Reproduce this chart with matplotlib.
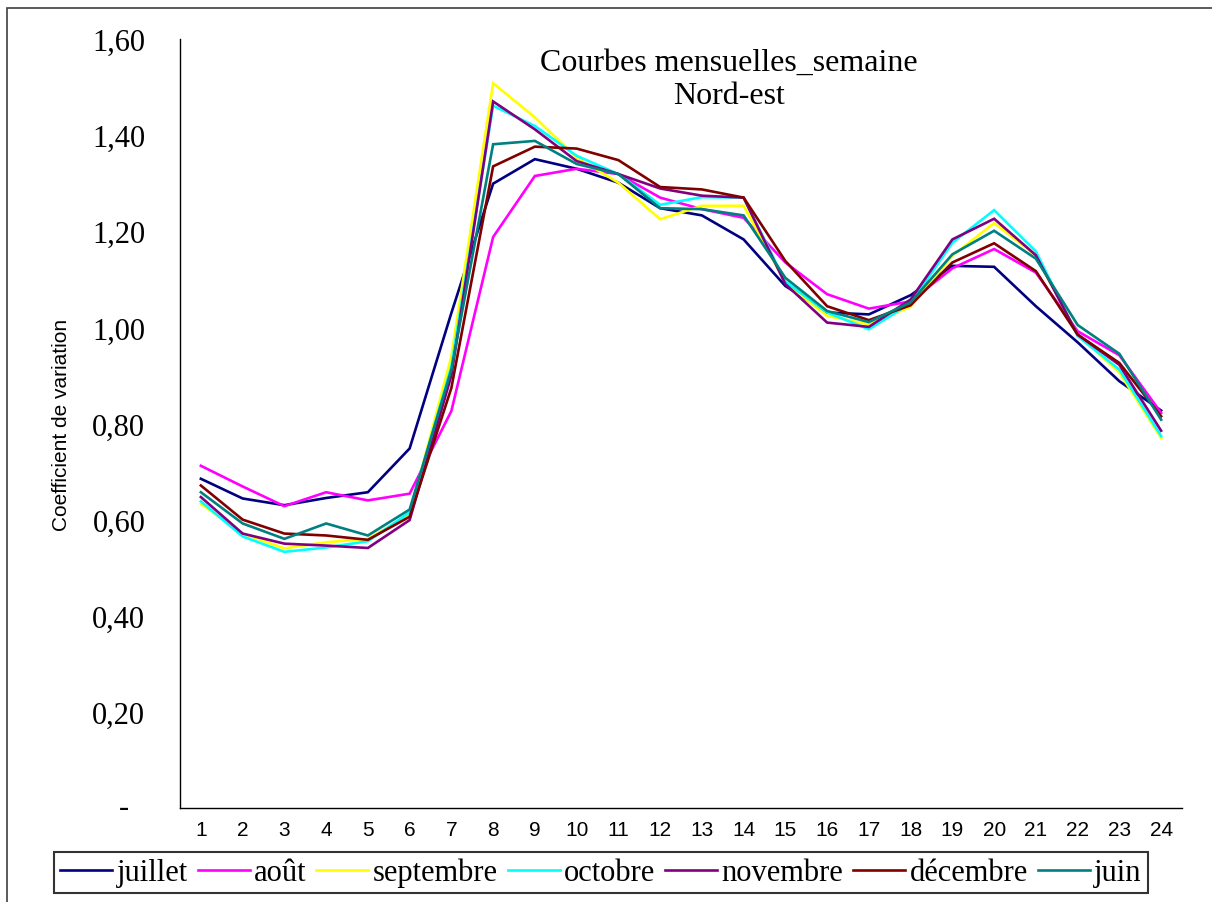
import matplotlib
matplotlib.use("Agg")
import matplotlib.pyplot as plt
from matplotlib.patches import Rectangle

hours = list(range(1, 25))
hour_labels = [str(h) for h in hours]

juillet = [0.685, 0.644, 0.630, 0.645, 0.657, 0.748, 1.030, 1.299, 1.350, 1.330, 1.301, 1.248,
           1.233, 1.183, 1.086, 1.031, 1.027, 1.067, 1.128, 1.126, 1.044, 0.969, 0.888, 0.827]
aout = [0.712, 0.669, 0.628, 0.657, 0.640, 0.654, 0.826, 1.188, 1.315, 1.330, 1.319, 1.270,
        1.246, 1.228, 1.135, 1.069, 1.039, 1.054, 1.123, 1.163, 1.114, 0.992, 0.942, 0.822]
septembre = [0.633, 0.571, 0.540, 0.553, 0.560, 0.610, 0.940, 1.508, 1.437, 1.353, 1.301, 1.225,
             1.253, 1.253, 1.093, 1.024, 1.006, 1.043, 1.149, 1.217, 1.150, 0.985, 0.906, 0.770]
octobre = [0.638, 0.565, 0.533, 0.542, 0.555, 0.615, 0.919, 1.461, 1.419, 1.357, 1.319, 1.255,
           1.271, 1.270, 1.095, 1.031, 0.996, 1.050, 1.176, 1.244, 1.158, 0.982, 0.912, 0.774]
novembre = [0.647, 0.571, 0.550, 0.546, 0.541, 0.599, 0.900, 1.470, 1.412, 1.346, 1.319, 1.289,
            1.274, 1.270, 1.090, 1.010, 1.001, 1.058, 1.183, 1.226, 1.150, 0.985, 0.922, 0.785]
decembre = [0.671, 0.600, 0.571, 0.567, 0.558, 0.606, 0.874, 1.335, 1.376, 1.372, 1.348, 1.292,
            1.287, 1.270, 1.138, 1.044, 1.015, 1.046, 1.135, 1.175, 1.117, 0.985, 0.926, 0.815]
juin = [0.657, 0.592, 0.560, 0.592, 0.567, 0.621, 0.912, 1.381, 1.388, 1.340, 1.319, 1.248,
        1.246, 1.233, 1.103, 1.034, 1.011, 1.052, 1.152, 1.201, 1.143, 1.005, 0.945, 0.808]

series_names = ["juillet", "août", "septembre", "octobre", "novembre", "décembre", "juin"]
series_values = [juillet, aout, septembre, octobre, novembre, decembre, juin]
series_colors = ["#000080", "#FF00FF", "#FFFF00", "#00FFFF", "#800080", "#800000", "#008080"]

yticks = [0.0, 0.2, 0.4, 0.6, 0.8, 1.0, 1.2, 1.4, 1.6]
ytick_labels = ["", "0,20", "0,40", "0,60", "0,80", "1,00", "1,20", "1,40", "1,60"]

W, H = 1212, 903
fig = plt.figure(figsize=(W / 100, H / 100), dpi=100)
fig.patch.set_facecolor("white")

# outer border
fig.patches.append(Rectangle((7 / W, -0.1), 1.2, 1 - 9 / H + 0.1, transform=fig.transFigure,
                             fill=False, edgecolor="#404040", linewidth=1.2))

ax_l, ax_r, ax_t, ax_b = 180, 1182, 40, 809
ax = fig.add_axes([ax_l / W, 1 - ax_b / H, (ax_r - ax_l) / W, (ax_b - ax_t) / H])

serif = ["Liberation Serif", "DejaVu Serif"]
sans = ["Liberation Sans", "DejaVu Sans"]

handles = []
for name, vals, col in zip(series_names, series_values, series_colors):
    h, = ax.plot(hours, vals, color=col, linewidth=1.9, label=name, solid_joinstyle="miter")
    handles.append(h)

ax.set_xlim(0.5, 24.5)
ax.set_ylim(0, 1.6)
ax.set_xticks(hours)
ax.set_xticklabels(hour_labels, fontsize=15, family=sans)
ax.set_yticks(yticks)
ax.set_yticklabels(ytick_labels, fontsize=22, family=serif)
ax.tick_params(axis="both", length=0)
ax.tick_params(axis="x", pad=8.5)
ax.tick_params(axis="y", pad=25)
ax.text(-(ax_l - 124) / (ax_r - ax_l), 0.0, "-", transform=ax.get_yaxis_transform(),
        ha="center", va="center", fontsize=22, family=serif)

for s in ["top", "right"]:
    ax.spines[s].set_visible(False)
for s in ["left", "bottom"]:
    ax.spines[s].set_linewidth(1.0)
    ax.spines[s].set_color("black")

ax.set_ylabel("Coefficient de variation", fontsize=15, family=sans)
ax.yaxis.set_label_coords(-(ax_l - 71) / (ax_r - ax_l), 0.5)

fig.text(729 / W, 1 - 80 / H, "Courbes mensuelles_semaine\nNord-est", ha="center", va="center",
         fontsize=23, family=serif, linespacing=1.2)

leg = fig.legend(handles=handles, labels=series_names, loc="center",
                 bbox_to_anchor=(601 / W, 1 - 873.5 / H), ncol=7, frameon=True, fancybox=False,
                 shadow=False, prop={"family": serif, "size": 22}, handlelength=1.7,
                 handletextpad=0.15, columnspacing=0.32, borderpad=0.2, borderaxespad=0)
leg.get_frame().set_edgecolor("black")
leg.get_frame().set_linewidth(1.5)

fig.savefig("out.png", dpi=100)
